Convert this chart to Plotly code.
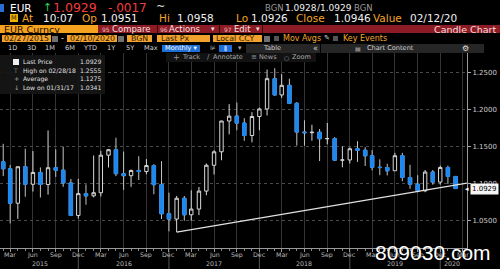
import pandas as pd
import plotly.graph_objects as go

# ---------------- data (monthly EUR candles) ----------------
MONTHS = pd.date_range("2015-02-01", "2020-02-01", freq="MS").strftime("%Y-%m-%d").tolist()
OPEN = [1.1290, 1.1197, 1.0731, 1.1224, 1.0987, 1.1147, 1.0984, 1.1211, 1.1177, 1.1005, 1.0566,
        1.0861, 1.0831, 1.0873, 1.1380, 1.1454, 1.1130, 1.1103, 1.1174, 1.1159, 1.1240, 1.0982, 1.0589,
        1.0517, 1.0798, 1.0575, 1.0652, 1.0895, 1.1244, 1.1426, 1.1842, 1.1908, 1.1814, 1.1646, 1.1903,
        1.2005, 1.2414, 1.2194, 1.2324, 1.2081, 1.1693, 1.1684, 1.1690, 1.1603, 1.1604, 1.1313, 1.1316,
        1.1467, 1.1446, 1.1372, 1.1217, 1.1213, 1.1170, 1.1373, 1.1078, 1.0988, 1.0899, 1.1152, 1.1017,
        1.1214, 1.1093]
HIGH = [1.1534, 1.1247, 1.1227, 1.1467, 1.1436, 1.1215, 1.1714, 1.1460, 1.1495, 1.1059, 1.1060,
        1.0986, 1.1376, 1.1439, 1.1464, 1.1616, 1.1428, 1.1185, 1.1366, 1.1327, 1.1258, 1.1300, 1.0874,
        1.0829, 1.0829, 1.0906, 1.0951, 1.1268, 1.1446, 1.1846, 1.2070, 1.2092, 1.1880, 1.1961, 1.2023,
        1.2537, 1.2555, 1.2476, 1.2414, 1.2097, 1.1852, 1.1791, 1.1733, 1.1815, 1.1625, 1.1500, 1.1486,
        1.1570, 1.1488, 1.1448, 1.1324, 1.1264, 1.1412, 1.1412, 1.1250, 1.1110, 1.1180, 1.1180, 1.1240,
        1.1239, 1.1096]
LOW = [1.1098, 1.0458, 1.0520, 1.0819, 1.0889, 1.0808, 1.0847, 1.1087, 1.0953, 1.0557, 1.0523,
       1.0711, 1.0810, 1.0822, 1.1214, 1.1097, 1.0912, 1.0952, 1.1044, 1.1122, 1.0852, 1.0518, 1.0352,
       1.0341, 1.0494, 1.0495, 1.0570, 1.0839, 1.1119, 1.1312, 1.1662, 1.1717, 1.1575, 1.1554, 1.1717,
       1.1916, 1.2188, 1.2155, 1.2070, 1.1510, 1.1508, 1.1575, 1.1301, 1.1526, 1.1302, 1.1216, 1.1269,
       1.1289, 1.1234, 1.1176, 1.1110, 1.1107, 1.1168, 1.1028, 1.0926, 1.0879, 1.0880, 1.0981, 1.0982,
       1.0992, 1.0926]
CLOSE = [1.1197, 1.0731, 1.1224, 1.0987, 1.1147, 1.0984, 1.1211, 1.1177, 1.1005, 1.0566, 1.0861,
         1.0831, 1.0873, 1.1380, 1.1454, 1.1130, 1.1103, 1.1174, 1.1159, 1.1240, 1.0982, 1.0589, 1.0517,
         1.0798, 1.0575, 1.0652, 1.0895, 1.1244, 1.1426, 1.1842, 1.1908, 1.1814, 1.1646, 1.1903, 1.2005,
         1.2414, 1.2194, 1.2324, 1.2081, 1.1693, 1.1684, 1.1690, 1.1603, 1.1604, 1.1313, 1.1316, 1.1467,
         1.1446, 1.1372, 1.1217, 1.1213, 1.1170, 1.1373, 1.1078, 1.0988, 1.0899, 1.1152, 1.1017, 1.1214,
         1.1093, 1.0929]

Y_TICKS = [1.05, 1.10, 1.15, 1.20, 1.25]
Y_TICK_LABELS = ["1.0500", "1.1000", "1.1500", "1.2000", "1.2500"]
X_TICKS = pd.date_range("2015-03-01", "2020-03-01", freq="3MS").strftime("%Y-%m-%d").tolist()
X_TICK_LABELS = [pd.Timestamp(d).strftime("%b") for d in X_TICKS]
YEAR_LABELS = ["2015", "2016", "2017", "2018", "2019", "2020"]
YEAR_POS = ["2015-07-01", "2016-06-01", "2017-06-01", "2018-06-01", "2019-06-01", "2020-01-16"]
YEAR_SEPARATORS = ["2015-12-01", "2016-12-01", "2017-12-01", "2018-12-01", "2019-12-01"]
TREND_X = ["2017-01-01", "2020-03-18"]
TREND_Y = [1.0341, 1.1003]
LAST_PRICE = 1.0929
X_RANGE = ["2015-01-19", "2020-03-18"]
Y_RANGE = [1.0126, 1.2761]

# ---------------- helpers ----------------
W, H = 500, 269
FONT = "DejaVu Sans"


def X(px):
    return px / W


def Y(py):
    return 1 - py / H


shapes = []
annotations = []


def rect(x0, y0, x1, y1, color):
    shapes.append(dict(type="rect", xref="paper", yref="paper", x0=X(x0), x1=X(x1),
                       y0=Y(y1), y1=Y(y0), fillcolor=color, line=dict(width=0), layer="above"))


def txt(x, y, s, color, size, anchor="left", family=FONT, bg=None):
    annotations.append(dict(xref="paper", yref="paper", x=X(x), y=Y(y), text=s, showarrow=False,
                            xanchor=anchor, yanchor="middle", borderpad=0, bgcolor=bg,
                            font=dict(family=family, size=size, color=color)))


BLUE = "#1e88f0"
fig = go.Figure()
fig.add_trace(go.Candlestick(
    x=MONTHS, open=OPEN, high=HIGH, low=LOW, close=CLOSE, whiskerwidth=0,
    increasing=dict(line=dict(color="#d8d8d8", width=1), fillcolor="#000000"),
    decreasing=dict(line=dict(color="#c4c4c4", width=1), fillcolor=BLUE),
    showlegend=False, hoverinfo="skip"))
body_hi = [max(o, c) for o, c in zip(OPEN, CLOSE)]
body_lo = [min(o, c) for o, c in zip(OPEN, CLOSE)]
fig.add_trace(go.Candlestick(
    x=MONTHS, open=OPEN, high=body_hi, low=body_lo, close=CLOSE, whiskerwidth=0,
    increasing=dict(line=dict(color="rgba(0,0,0,0)", width=0), fillcolor="rgba(0,0,0,0)"),
    decreasing=dict(line=dict(color=BLUE, width=1), fillcolor=BLUE),
    showlegend=False, hoverinfo="skip"))
fig.add_trace(go.Scatter(x=TREND_X, y=TREND_Y, mode="lines",
                         line=dict(color="#e2e2e2", width=1.3), showlegend=False, hoverinfo="skip"))

# year separators below the axis
for d in YEAR_SEPARATORS:
    shapes.append(dict(type="line", xref="x", yref="paper", x0=d, x1=d, y0=0, y1=Y(248),
                       line=dict(color="#555555", width=1), layer="below"))
# month tick labels and year labels, placed through the x axis
for lbl, pos in zip(X_TICK_LABELS, X_TICKS):
    annotations.append(dict(xref="x", yref="paper", x=pos, y=Y(254.5), text=lbl, showarrow=False,
                            xanchor="center", yanchor="middle",
                            font=dict(family=FONT, size=6.3, color="#bbbbbb")))
for lbl, pos in zip(YEAR_LABELS, YEAR_POS):
    annotations.append(dict(xref="x", yref="paper", x=pos, y=Y(263), text=lbl, showarrow=False,
                            xanchor="center", yanchor="middle",
                            font=dict(family=FONT, size=6.3, color="#bbbbbb")))

# ---------------- header ----------------
ORANGE_T = "#f4a52a"
WHITE_T = "#f0f0f0"
# row 1
rect(0, 4, 4, 12, "#2b6cd4")
txt(9, 7.5, "EUR", "#ffffff", 10.5)
txt(42, 7.5, "↑", "#2fd35a", 11)
txt(52, 7.5, "1.0929", "#f43b3b", 12.5)
txt(107, 7.5, "-.0017", "#f43b3b", 12)
txt(155, 6.5, "~", "#e0e0e0", 11)
txt(264, 7.5, "BGN", "#9a9a9a", 8.5)
txt(284, 7.5, "1.0928", WHITE_T, 9)
txt(316, 7.5, "/1.0929", WHITE_T, 9)
txt(353, 7.5, "BGN", "#9a9a9a", 8.5)
# row 2
rect(10, 14, 18, 22, "#f0b000")
txt(14, 18, "M", "#3a2000", 6.5, "center")
row2 = [(21, "At", ORANGE_T), (42, "10:07", WHITE_T), (81, "Op", ORANGE_T), (100, "1.0951", WHITE_T),
        (158, "Hi", ORANGE_T), (176, "1.0958", WHITE_T), (235, "Lo", ORANGE_T), (250, "1.0926", WHITE_T),
        (295, "Close", ORANGE_T), (333, "1.0946", WHITE_T), (372, "Value", ORANGE_T),
        (409, "02/12/20", WHITE_T)]
for x, s, c in row2:
    txt(x, 18, s, c, 10.5)
# row 3
rect(0, 25, 98, 33, "#f5a21f")
rect(98, 25, 500, 33, "#8d1b25")
for sx in (157, 219, 262):
    rect(sx, 25, sx + 1, 33, "#3a0508")
txt(3, 29, "EUR Curncy", "#1a0d00", 9.5)
txt(101, 29, "95", "#f0b8b8", 6)
txt(111, 29, "Compare", "#f5e0e0", 8.5)
txt(159, 29, "96", "#f0b8b8", 6)
txt(168, 29, "Actions", "#f5e0e0", 8.5)
txt(210, 29, "▾", "#f5e0e0", 7)
txt(223, 29, "97", "#f0b8b8", 6)
txt(233, 29, "Edit", "#f5e0e0", 8.5)
txt(255, 29, "▾", "#f5e0e0", 7)
txt(497, 29, "Candle Chart", "#f5dcdc", 9.5, "right")
# row 4
FIELD = "#f2a22c"
FIELD_T = "#2a1500"
for x0, x1 in [(2, 51), (67, 117), (127, 152), (157, 210), (213, 262)]:
    rect(x0, 35, x1, 42, FIELD)
for x0 in (52, 118, 264):
    rect(x0, 36, x0 + 6, 42, "#707070")
txt(26.5, 38.5, "02/27/2015", FIELD_T, 7.8, "center")
txt(62, 38.5, "-", WHITE_T, 8, "center")
txt(92, 38.5, "02/10/2020", FIELD_T, 7.8, "center")
txt(130, 38.5, "BGN", FIELD_T, 7.8)
txt(160, 38.5, "Last Px", FIELD_T, 7.8)
txt(215, 38.5, "Local CCY", FIELD_T, 7.8)
rect(274, 36, 279, 41, "#555555")
txt(282, 38.5, "Mov Avgs", ORANGE_T, 8)
txt(323, 38.5, "✎", "#dddddd", 7)
rect(333, 36, 338, 41, "#555555")
txt(342, 38.5, "Key Events", ORANGE_T, 8)
# row 5
for x, s in [(12, "1D"), (31, "3D"), (50, "1M"), (69.5, "6M"), (90, "YTD"), (111.5, "1Y"),
             (130, "5Y"), (151, "Max")]:
    txt(x, 48.5, s, "#d0d0d0", 6.6, "center")
rect(162, 45, 200, 52, "#1f6fd8")
txt(181, 48.5, "Monthly ▾", "#ffffff", 6.6, "center")
txt(213, 48.5, "⊯", "#aaaaaa", 6.5, "center")
rect(219, 45, 232, 52, "#1f6fd8")
txt(225.5, 48.5, "ǁ", "#ffffff", 6, "center")
txt(240, 48.5, "▾", "#aaaaaa", 7, "center")
rect(246, 44, 484, 53, "#262626")
rect(320, 44, 321, 53, "#000000")
txt(272, 48.5, "Table", "#d0d0d0", 6.6, "center")
txt(315, 48.5, "«", "#d0d0d0", 8, "center")
txt(358, 48.5, "▤", "#bbbbbb", 6, "center")
txt(366, 48.5, "Chart Content", "#d0d0d0", 6.6)
txt(465, 48.5, "⚙", "#e0e0e0", 8, "center")
# row 6 toolbar
rect(166, 53, 316, 62, "#121212")
txt(172, 57.5, "+", "#999999", 8)
txt(181, 57.5, "Track", "#aaaaaa", 6.5)
txt(206, 57.5, "/", "#999999", 7)
txt(212, 57.5, "Annotate", "#aaaaaa", 6.5)
txt(250, 57.5, "≡", "#999999", 7)
txt(258, 57.5, "News", "#aaaaaa", 6.5)
txt(283, 57.5, "○", "#999999", 6)
txt(291, 57.5, "Zoom", "#aaaaaa", 6.5)

# ---------------- legend box ----------------
rect(0, 55, 105, 94, "rgba(22,22,22,0.93)")
rect(13, 59, 19, 65, "#f0f0f0")
leg = [(62, None, "Last Price", "1.0929"), (70.5, "⊤", "High on 02/28/18", "1.2555"),
       (79, "+", "Average", "1.1275"), (87.5, "↓", "Low on 01/31/17", "1.0341")]
for y, icon, label, val in leg:
    if icon:
        txt(16, y, icon, "#aaaaaa", 6.5, "center")
    txt(22, y, label, "#e0e0e0", 6.1)
    txt(102, y, val, "#e0e0e0", 6.1, "right")

# last price tag
annotations.append(dict(xref="paper", yref="y", x=X(470), y=LAST_PRICE, text="1.0929",
                        showarrow=False, xanchor="left", yanchor="middle", bgcolor="#f5f5f5",
                        borderpad=1, font=dict(family=FONT, size=7, color="#000000")))
annotations.append(dict(xref="paper", yref="y", x=X(470.5), y=LAST_PRICE, text="◂",
                        showarrow=False, xanchor="right", yanchor="middle",
                        font=dict(family=FONT, size=7, color="#f5f5f5")))

# watermark
txt(433, 252, "809030.com", "#ffffff", 21, "center", family="Liberation Sans")

fig.update_layout(
    width=W, height=H, margin=dict(l=0, r=0, t=0, b=0),
    paper_bgcolor="#000000", plot_bgcolor="#000000", boxmode="overlay",
    showlegend=False, font=dict(family=FONT, color="#cccccc"),
    shapes=shapes, annotations=annotations,
    xaxis=dict(type="date", domain=[0, X(467)], range=X_RANGE, tickvals=X_TICKS,
               ticktext=[""] * len(X_TICKS), ticks="outside", ticklen=3, tickcolor="#999999",
               showline=True, linecolor="#999999", linewidth=1,
               showgrid=True, gridcolor="#353535", gridwidth=1, zeroline=False,
               minor=dict(dtick="M1", tick0="2015-01-01", ticks="outside", ticklen=2,
                          tickcolor="#888888", showgrid=False),
               rangeslider=dict(visible=False), fixedrange=True),
    yaxis=dict(side="right", domain=[Y(248), Y(53)], range=Y_RANGE, tickvals=Y_TICKS,
               ticktext=Y_TICK_LABELS, ticks="outside", ticklen=3, tickcolor="#aaaaaa",
               showline=True, linecolor="#999999", linewidth=1,
               showgrid=True, gridcolor="#4a4a4a", griddash="dot", zeroline=False,
               tickfont=dict(family=FONT, size=7, color="#cccccc"), fixedrange=True),
)

fig.write_html("out.html")
